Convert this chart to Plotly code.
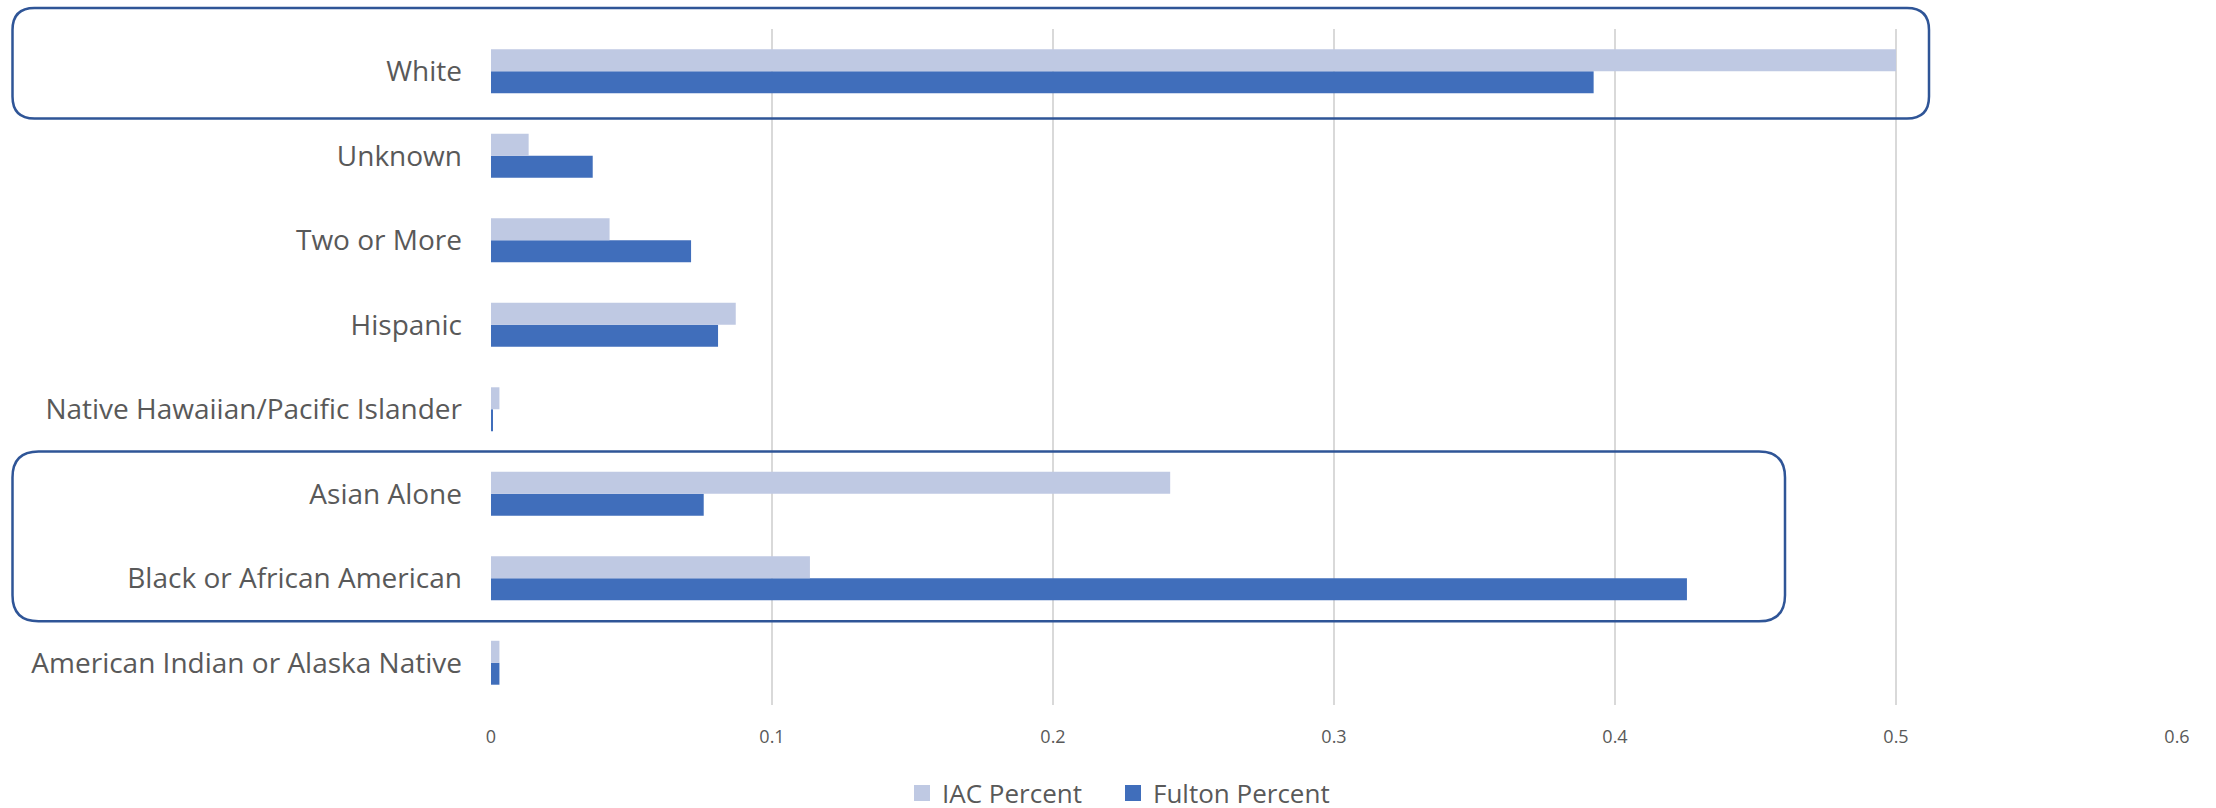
import plotly.graph_objects as go

# Race / ethnicity categories, bottom to top on the chart
categories = [
    "American Indian or Alaska Native",
    "Black or African American",
    "Asian Alone",
    "Native Hawaiian/Pacific Islander",
    "Hispanic",
    "Two or More",
    "Unknown",
    "White",
]
iac_percent = [0.003, 0.1135, 0.2417, 0.003, 0.0871, 0.0422, 0.0134, 0.500]
fulton_percent = [0.003, 0.4256, 0.0757, 0.0004, 0.0808, 0.0712, 0.0362, 0.3924]

x_ticks = [0, 0.1, 0.2, 0.3, 0.4, 0.5, 0.6]

W, H = 2216, 808
M_L, M_R, M_T, M_B = 491, 39, 29, 103
TEXT = "#595959"
FONT = "Open Sans"
IAC_COLOR = "#BFC9E3"
FULTON_COLOR = "#406EBB"

fig = go.Figure()
fig.add_trace(go.Bar(
    y=categories, x=fulton_percent, name="Fulton Percent", orientation="h",
    marker=dict(color=FULTON_COLOR, line=dict(width=0)), showlegend=False,
))
fig.add_trace(go.Bar(
    y=categories, x=iac_percent, name="IAC Percent", orientation="h",
    marker=dict(color=IAC_COLOR, line=dict(width=0)), showlegend=False,
))

# Legend entries with square swatches, each in its own legend box
for name, color, leg in [("IAC Percent", IAC_COLOR, "legend"),
                         ("Fulton Percent", FULTON_COLOR, "legend2")]:
    fig.add_trace(go.Scatter(
        x=[None], y=[None], mode="markers", name=name, legend=leg,
        marker=dict(symbol="square", size=17, color=color),
    ))

# Rounded outline boxes highlighting groups of categories
pw = W - M_L - M_R
ph = H - M_T - M_B
n_cat = len(categories)


def px_to_paper_x(px):
    return (px - M_L) / pw


def cat_to_paper_y(v):
    # category axis spans -0.5 .. n-0.5
    return (v + 0.5) / n_cat


def rounded_box(x0px, x1px, cat_lo, cat_hi, pad_lo, pad_hi, r):
    x0, x1 = px_to_paper_x(x0px), px_to_paper_x(x1px)
    y0 = cat_to_paper_y(cat_lo - pad_lo)
    y1 = cat_to_paper_y(cat_hi + pad_hi)
    rx = r / pw
    ry = r / ph
    path = (
        f"M {x0 + rx},{y1} L {x1 - rx},{y1} Q {x1},{y1} {x1},{y1 - ry} "
        f"L {x1},{y0 + ry} Q {x1},{y0} {x1 - rx},{y0} "
        f"L {x0 + rx},{y0} Q {x0},{y0} {x0},{y0 + ry} "
        f"L {x0},{y1 - ry} Q {x0},{y1} {x0 + rx},{y1} Z"
    )
    fig.add_shape(type="path", path=path, xref="paper", yref="paper",
                  line=dict(color="#2F5597", width=2.5), layer="above")


rounded_box(12.5, 1929, categories.index("White"), categories.index("White"),
            0.56, 0.75, 22)
rounded_box(12.5, 1785, categories.index("Black or African American"),
            categories.index("Asian Alone"), 0.51, 0.50, 26)

legend_common = dict(
    orientation="h", xref="container", yref="container",
    xanchor="left", y=15 / H, yanchor="middle",
    font=dict(family=FONT, size=26, color=TEXT),
    itemwidth=30, bgcolor="rgba(0,0,0,0)",
)

fig.update_layout(
    width=W, height=H,
    margin=dict(l=M_L, r=M_R, t=M_T, b=M_B),
    paper_bgcolor="white", plot_bgcolor="white",
    barmode="group", bargap=0.48, bargroupgap=0,
    font=dict(family=FONT, color=TEXT),
    showlegend=True,
    legend=dict(legend_common, x=902 / W),
    legend2=dict(legend_common, x=1113 / W),
    xaxis=dict(
        range=[0, 0.6], tickvals=x_ticks, ticktext=[f"{v:g}" for v in x_ticks],
        showgrid=True, gridcolor="#D9D9D9", gridwidth=1.5,
        zeroline=False, showline=False,
        tickfont=dict(family=FONT, size=18, color=TEXT),
        ticklabelstandoff=19,
    ),
    yaxis=dict(
        range=[-0.5, n_cat - 0.5], autorange=False,
        showgrid=False, zeroline=False, showline=False,
        tickfont=dict(family=FONT, size=28, color=TEXT),
        ticklabelstandoff=28,
    ),
)

fig.write_html("out.html")
